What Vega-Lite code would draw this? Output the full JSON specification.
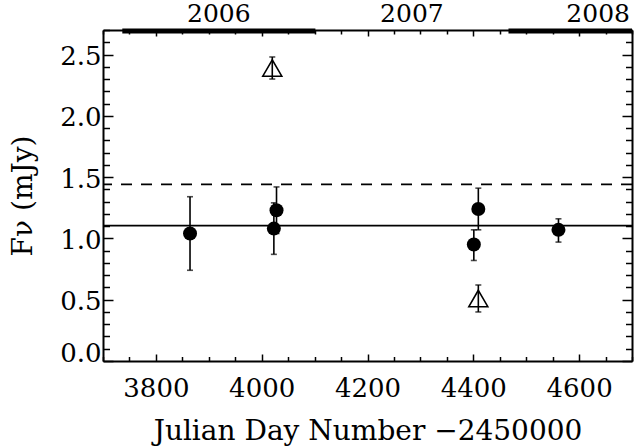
{
  "$schema": "https://vega.github.io/schema/vega-lite/v6.json",
  "width": 529,
  "height": 331,
  "autosize": "none",
  "padding": {"left": 103, "top": 30, "right": 4, "bottom": 86},
  "background": "white",
  "config": {"view": {"stroke": null}, "font": "DejaVu Serif"},
  "datasets": {
    "points": [
      {"jd": 3864.5, "flux": 1.04, "lo": 0.74, "hi": 1.34, "kind": "detection"},
      {"jd": 4023, "flux": 1.08, "lo": 0.87, "hi": 1.29, "kind": "detection"},
      {"jd": 4028, "flux": 1.23, "lo": 1.04, "hi": 1.42, "kind": "detection"},
      {"jd": 4020, "flux": 2.39, "lo": 2.30, "hi": 2.48, "kind": "other"},
      {"jd": 4401, "flux": 0.95, "lo": 0.82, "hi": 1.07, "kind": "detection"},
      {"jd": 4409.5, "flux": 1.24, "lo": 1.07, "hi": 1.41, "kind": "detection"},
      {"jd": 4409.5, "flux": 0.51, "lo": 0.40, "hi": 0.62, "kind": "other"},
      {"jd": 4561, "flux": 1.07, "lo": 0.97, "hi": 1.16, "kind": "detection"}
    ],
    "levels": [
      {"level": 1.105, "kind": "mean"},
      {"level": 1.44, "kind": "limit"}
    ],
    "years": [
      {"year": "2006", "mid": 3919},
      {"year": "2007", "mid": 4284},
      {"year": "2008", "mid": 4636}
    ],
    "bars": [
      {"start": 3736.5, "end": 4101.5},
      {"start": 4466.5, "end": 4700}
    ]
  },
  "layer": [
    {
      "data": {"name": "levels"},
      "transform": [{"filter": "datum.kind === 'mean'"}],
      "mark": {"type": "rule", "color": "black", "strokeWidth": 1.7},
      "encoding": {
        "y": {"field": "level", "type": "quantitative", "scale": {"domain": [0, 2.7], "nice": false, "zero": false}, "axis": null}
      }
    },
    {
      "data": {"name": "levels"},
      "transform": [{"filter": "datum.kind === 'limit'"}],
      "mark": {"type": "rule", "color": "black", "strokeWidth": 1.7, "strokeDash": [11, 9]},
      "encoding": {
        "y": {"field": "level", "type": "quantitative", "scale": {"domain": [0, 2.7], "nice": false, "zero": false}, "axis": null}
      }
    },
    {
      "data": {"name": "points"},
      "mark": {"type": "errorbar", "ticks": {"size": 6, "thickness": 1.6, "color": "black"}, "rule": {"strokeWidth": 1.6, "color": "black"}, "color": "black"},
      "encoding": {
        "x": {"field": "jd", "type": "quantitative", "scale": {"domain": [3700, 4700], "nice": false, "zero": false}, "axis": null},
        "y": {"field": "lo", "type": "quantitative", "scale": {"domain": [0, 2.7], "nice": false, "zero": false}, "axis": null},
        "y2": {"field": "hi"}
      }
    },
    {
      "data": {"name": "points"},
      "transform": [{"filter": "datum.kind === 'detection'"}],
      "mark": {"type": "point", "shape": "circle", "filled": true, "color": "black", "size": 196, "opacity": 1},
      "encoding": {
        "x": {
          "field": "jd", "type": "quantitative",
          "scale": {"domain": [3700, 4700], "nice": false, "zero": false},
          "axis": {
            "orient": "bottom",
            "values": [3700, 3750, 3800, 3850, 3900, 3950, 4000, 4050, 4100, 4150, 4200, 4250, 4300, 4350, 4400, 4450, 4500, 4550, 4600, 4650, 4700],
            "labelExpr": "datum.value % 200 === 0 ? format(datum.value, 'd') : ''",
            "tickSize": {"condition": {"test": "datum.value % 200 === 0", "value": -7}, "value": -4.5},
            "tickWidth": 1.5, "tickColor": "black",
            "domainColor": "black", "domainWidth": 2,
            "labelFont": "DejaVu Serif", "labelFontSize": 26, "labelColor": "black",
            "labelPadding": 21, "labelFlush": false, "labelOverlap": false, "labelBaseline": "top",
            "grid": false,
            "title": "Julian Day Number −2450000",
            "titleFont": "DejaVu Serif", "titleFontSize": 28, "titleFontWeight": "normal", "titleColor": "black",
            "titlePadding": 14
          }
        },
        "y": {
          "field": "flux", "type": "quantitative",
          "scale": {"domain": [0, 2.7], "nice": false, "zero": false},
          "axis": {
            "orient": "left",
            "values": [0, 0.1, 0.2, 0.3, 0.4, 0.5, 0.6, 0.7, 0.8, 0.9, 1.0, 1.1, 1.2, 1.3, 1.4, 1.5, 1.6, 1.7, 1.8, 1.9, 2.0, 2.1, 2.2, 2.3, 2.4, 2.5, 2.6, 2.7],
            "labelExpr": "abs(datum.value * 2 - round(datum.value * 2)) < 0.000001 ? format(datum.value, '.1f') : ''",
            "tickSize": {"condition": {"test": "abs(datum.value * 2 - round(datum.value * 2)) < 0.000001", "value": -10}, "value": -6.5},
            "tickWidth": 1.5, "tickColor": "black",
            "domainColor": "black", "domainWidth": 2,
            "labelFont": "DejaVu Serif", "labelFontSize": 26, "labelColor": "black",
            "labelPadding": 12, "labelFlush": false, "labelOverlap": false,
            "labelOffset": {"condition": {"test": "datum.value === 0", "value": -8}, "value": 2},
            "grid": false,
            "title": "Fν (mJy)",
            "titleFont": "DejaVu Serif", "titleFontSize": 28, "titleFontWeight": "normal", "titleColor": "black",
            "titlePadding": 22
          }
        }
      }
    },
    {
      "data": {"name": "points"},
      "transform": [{"filter": "datum.kind === 'other'"}],
      "mark": {"type": "point", "shape": "triangle-up", "filled": false, "color": "black", "strokeWidth": 1.6, "size": 360, "opacity": 1},
      "encoding": {
        "x": {"field": "jd", "type": "quantitative", "scale": {"domain": [3700, 4700], "nice": false, "zero": false}, "axis": null},
        "y": {"field": "flux", "type": "quantitative", "scale": {"domain": [0, 2.7], "nice": false, "zero": false}, "axis": null}
      }
    },
    {
      "data": {"name": "bars"},
      "mark": {"type": "rule", "color": "black", "strokeWidth": 5, "strokeCap": "butt", "yOffset": 1},
      "encoding": {
        "x": {
          "field": "start", "type": "quantitative",
          "scale": {"domain": [3700, 4700], "nice": false, "zero": false},
          "axis": {
            "orient": "top",
            "values": [3700, 3750, 3800, 3850, 3900, 3950, 4000, 4050, 4100, 4150, 4200, 4250, 4300, 4350, 4400, 4450, 4500, 4550, 4600, 4650, 4700],
            "labels": false,
            "tickSize": {"condition": {"test": "datum.value % 200 === 0", "value": -6}, "value": -4},
            "tickWidth": 1.5, "tickColor": "black",
            "domainColor": "black", "domainWidth": 2,
            "grid": false, "title": null
          }
        },
        "x2": {"field": "end"},
        "y": {
          "datum": 2.7, "type": "quantitative",
          "scale": {"domain": [0, 2.7], "nice": false, "zero": false},
          "axis": {
            "orient": "right",
            "values": [0, 0.1, 0.2, 0.3, 0.4, 0.5, 0.6, 0.7, 0.8, 0.9, 1.0, 1.1, 1.2, 1.3, 1.4, 1.5, 1.6, 1.7, 1.8, 1.9, 2.0, 2.1, 2.2, 2.3, 2.4, 2.5, 2.6, 2.7],
            "labels": false,
            "tickSize": {"condition": {"test": "abs(datum.value * 2 - round(datum.value * 2)) < 0.000001", "value": -10}, "value": -6.5},
            "tickWidth": 1.5, "tickColor": "black",
            "domainColor": "black", "domainWidth": 2,
            "grid": false, "title": null
          }
        }
      }
    },
    {
      "data": {"name": "years"},
      "mark": {"type": "text", "font": "DejaVu Serif", "fontSize": 25, "color": "black", "baseline": "alphabetic", "align": "center", "dy": -8},
      "encoding": {
        "x": {"field": "mid", "type": "quantitative", "scale": {"domain": [3700, 4700], "nice": false, "zero": false}, "axis": null},
        "y": {"datum": 2.7, "type": "quantitative", "scale": {"domain": [0, 2.7], "nice": false, "zero": false}, "axis": null},
        "text": {"field": "year"}
      }
    }
  ],
  "resolve": {"axis": {"x": "independent", "y": "independent"}}
}
